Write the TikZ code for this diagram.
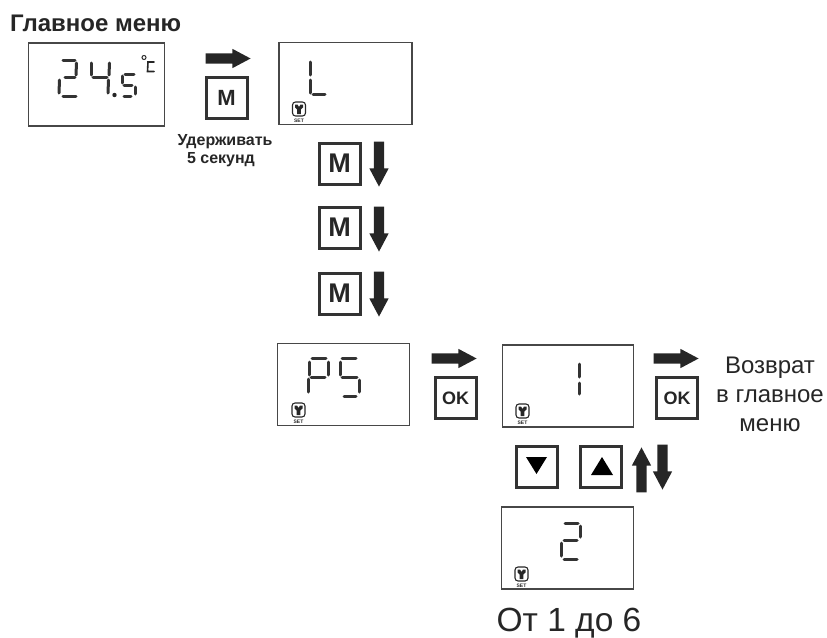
\documentclass[tikz,border=0pt]{standalone}
\usepackage{fontspec}
\setmainfont{Liberation Sans}
\usepackage{xcolor}
\usetikzlibrary{positioning, shapes.arrows}

\begin{document}
\begin{tikzpicture}[x=1pt, y=-1pt,
    displaybox/.style={rectangle, draw=black!72, line width=1.7pt, inner sep=0pt, minimum height=82pt},
    keybox/.style={rectangle, draw=black!80, line width=3pt, inner sep=0pt, minimum size=41pt, font=\fontsize{27}{27}\selectfont\bfseries, text=black!85},
    okkey/.style={keybox, font=\fontsize{18}{18}\selectfont\bfseries},
    smallkey/.style={keybox, font=\fontsize{22}{22}\selectfont\bfseries},
    moveright/.style={single arrow, fill=black!85, inner sep=5pt, minimum height=45pt, single arrow head extend=4.5pt, single arrow tip angle=56, single arrow head indent=0pt, anchor=tip},
    movedown/.style={moveright, shape border rotate=270},
    moveup/.style={moveright, shape border rotate=90},
    seg/.style={line width=3pt, line cap=round, draw=black!80},
    label/.style={text=black!85, align=center, inner sep=0pt},
    seticon/.pic={
        \draw[black!85, line width=1.1pt, rounded corners=3pt] (-6.5,-7) rectangle (6.5,7);
        \fill[black!85] (-4,-4.5) -- (-1.5,-4.5) -- (0,-2) -- (1.5,-4.5) -- (4,-4.5) -- (4,-1.5) -- (1.8,0.5) -- (1.8,5) -- (-1.8,5) -- (-1.8,0.5) -- (-4,-1.5) -- cycle;
        \node[black!85, inner sep=0pt, font=\fontsize{5}{5}\selectfont\bfseries] at (0,11.5) {SET};
    }]
\useasboundingbox (0,0) rectangle (827,637);

\node[label, anchor=west, font=\fontsize{24}{26}\selectfont\bfseries] at (10,23) (title) {Главное меню};

\node[displaybox, minimum width=136pt, minimum height=83pt] at (96.5,84.5) (temp) {};
\node[displaybox, minimum width=133pt] at (345.5,83.5) (menul) {};
\node[displaybox, minimum width=132pt] at (343.5,384.5) (menups) {};
\node[displaybox, minimum width=131pt] at (568,386) (valone) {};
\node[displaybox, minimum width=132pt] at (567.5,548) (valtwo) {};

\node[moveright] at (251,58.5) (a1) {};
\node[smallkey] at (226.5,97.5) (k1) {M};
\node[label, font=\fontsize{16}{18}\selectfont\bfseries] at (225,142) (hold) {Удерживать};
\node[label, font=\fontsize{16}{18}\selectfont\bfseries] at (221,160) (secs) {5 секунд};

\node[keybox] at (339.5,163.5) (k2) {M};
\node[keybox] at (339.5,227.5) (k3) {M};
\node[keybox] at (339.5,293.5) (k4) {M};
\node[movedown] at (379,187) (a2) {};
\node[movedown] at (379,252) (a3) {};
\node[movedown] at (379,317) (a4) {};

\node[moveright] at (477,358.5) (a5) {};
\node[okkey] at (455.5,398) (ok1) {OK};
\node[moveright] at (699,358.5) (a6) {};
\node[okkey] at (677,398) (ok2) {OK};
\node[label, font=\fontsize{24}{29}\selectfont] at (770,394) (back) {Возврат\\в главное\\меню};

\node[keybox] at (537,467) (kdown) {};
\node[keybox] at (601,467) (kup) {};
\fill[black] (526,457) -- (547,457) -- (536.5,474) -- cycle;
\fill[black] (591,475) -- (613,475) -- (602,457) -- cycle;
\node[moveup] at (641.5,447) (a7) {};
\node[movedown] at (662.5,490) (a8) {};

\node[label, font=\fontsize{33.5}{36}\selectfont] at (569,623) (range) {От 1 до 6};

% display digits
\foreach \xa/\ya/\xb/\yb in {63/60/75/60, 76.5/63/76/75, 65/77/75/77, 59.5/80/59/93, 63/96/76/96,
    91/63/91/75, 93/77/107/77, 109.5/63/109/75, 108.5/80/108/93,
    125/74/134/74, 122.5/76/122.5/83, 124/85/132/85, 135/87/135/94, 124/96.5/131/96.5,
    310/62/310/75, 310/80/310/93, 313/94/325/94,
    309.5/362/309.5/375, 308/379/308/392, 312/358/326/358, 328/362/328/375, 311/377/325/377,
    342/358/356/358, 340/362/340/375, 342/377/357/377, 359/380/359/392, 344/396/356/396,
    579/364/579/377, 579/383/579/394,
    565/523/578/523, 580/526/580/537, 564/540/577/540, 561/543/561/556, 564/559/577/559}
    \draw[seg] (\xa,\ya) -- (\xb,\yb);
\fill[black!85] (114.5,95) circle (2.2);
\draw[black!85, line width=1pt] (144,57.5) circle (2);
\draw[black!85, line width=1.6pt, line cap=round] (154,62) -- (148,62) -- (147.5,71.5) -- (154,71.5);

\pic at (299,109) {seticon};
\pic at (298.5,410) {seticon};
\pic at (522.5,411) {seticon};
\pic at (521.5,574) {seticon};

\end{tikzpicture}
\end{document}
